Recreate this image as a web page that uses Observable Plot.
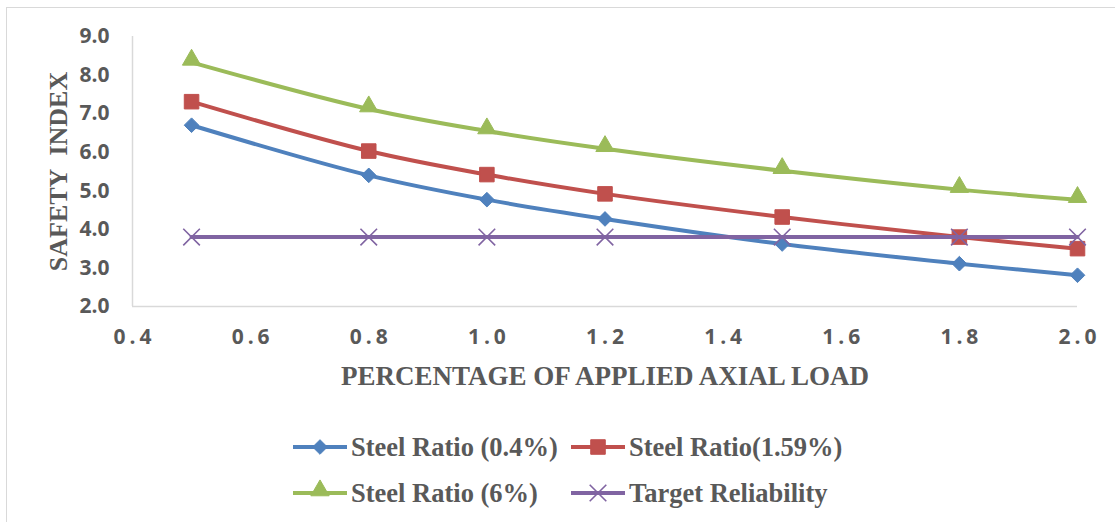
<!DOCTYPE html>
<html>
<head>
<meta charset="utf-8">
<script src="https://cdn.jsdelivr.net/npm/d3@7"></script>
<script src="https://cdn.jsdelivr.net/npm/@observablehq/plot@0.6"></script>
<style>
  html, body { margin: 0; padding: 0; background: #fff; }
  #wrap { position: relative; width: 1115px; height: 522px; overflow: hidden; background: #fff; }
  #frame { position: absolute; left: 6px; top: 7px; right: -4px; bottom: -4px;
           border-left: 1.5px solid #d9d9d9; border-top: 1.5px solid #d9d9d9; }
  #chart { position: absolute; left: 0; top: 0; }
  #chart g[aria-label="x-axis tick label"] { letter-spacing: 4px; }
  #legend { position: absolute; left: 0; top: 400px; width: 1115px; height: 122px; }
  .item { position: absolute; display: flex; align-items: center; height: 30px;
          font-family: "Liberation Serif", "Times New Roman", serif; font-weight: bold;
          font-size: 26.5px; color: #595959; white-space: nowrap; }
  .item svg { margin-right: 4px; }
</style>
</head>
<body>
<div id="wrap">
  <div id="frame"></div>
  <div id="chart"></div>
  <div id="legend"></div>
</div>
<script>
// Applied axial load (fraction) and safety index of each steel ratio
const loads = [0.5, 0.8, 1.0, 1.2, 1.5, 1.8, 2.0];
const steel04 = [6.70, 5.40, 4.77, 4.27, 3.62, 3.11, 2.81];
const steel159 = [7.31, 6.03, 5.42, 4.92, 4.32, 3.80, 3.50];
const steel6 = [8.33, 7.12, 6.55, 6.09, 5.52, 5.03, 4.77];
const target = [3.8, 3.8, 3.8, 3.8, 3.8, 3.8, 3.8];

const xTicks = [0.4, 0.6, 0.8, 1.0, 1.2, 1.4, 1.6, 1.8, 2.0];
const yTicks = [2, 3, 4, 5, 6, 7, 8, 9];

const seriesNames = ["Steel Ratio (0.4%)", "Steel Ratio(1.59%)", "Steel Ratio (6%)", "Target Reliability"];
const seriesValues = [steel04, steel159, steel6, target];
const seriesColors = ["#4f81bd", "#c0504d", "#9bbb59", "#8064a2"];

const markerStyle = [
  {symbol: "diamond2", r: 6.6, fill: seriesColors[0], stroke: seriesColors[0], strokeWidth: 1, dy: 0},
  {symbol: "square", r: 8.2, fill: seriesColors[1], stroke: seriesColors[1], strokeWidth: 1, dy: 0},
  {symbol: "triangle", r: 6.8, fill: seriesColors[2], stroke: seriesColors[2], strokeWidth: 1, dy: -2.5},
  {symbol: "times", r: 7.6, fill: "none", stroke: seriesColors[3], strokeWidth: 1.6, dy: 0}
];

const rows = seriesNames.map((name, i) =>
  loads.map((x, j) => ({series: name, x, y: seriesValues[i][j]}))
);

const fmt = d3.format(".1f");
const tickFont = "'Open Sans', 'DejaVu Sans', sans-serif";
const titleFont = "'Liberation Serif', 'Times New Roman', serif";

const marks = [
  Plot.ruleX([0.4], {stroke: "#d9d9d9", strokeWidth: 1.5}),
  Plot.ruleY([2], {stroke: "#d9d9d9", strokeWidth: 1.5}),
  Plot.axisY({ticks: yTicks, tickFormat: fmt, tickSize: 0, tickPadding: 23, label: null,
    fontSize: 21, fontWeight: "bold", fill: "#595959", fontFamily: tickFont}),
  Plot.axisX({ticks: xTicks, tickFormat: fmt, tickSize: 0, tickPadding: 23, label: null,
    fontSize: 21, fontWeight: "bold", fill: "#595959", fontFamily: tickFont, dx: 2}),
  Plot.text(["SAFETY\u00a0\u00a0INDEX"], {frameAnchor: "left", rotate: -90, dx: -74,
    textAnchor: "middle", lineAnchor: "middle", fontSize: 26, fontWeight: "bold",
    fontFamily: titleFont, fill: "#595959"}),
  Plot.text(["PERCENTAGE OF APPLIED AXIAL LOAD"], {frameAnchor: "bottom", dy: 70,
    textAnchor: "middle", lineAnchor: "middle", fontSize: 27, fontWeight: "bold",
    fontFamily: titleFont, fill: "#595959"})
];

rows.forEach((data, i) => {
  marks.push(Plot.line(data, {x: "x", y: "y", stroke: seriesColors[i], strokeWidth: 4,
    curve: "catmull-rom"}));
  const m = markerStyle[i];
  marks.push(Plot.dot(data, {x: "x", y: "y", symbol: () => m.symbol, r: m.r, fill: m.fill,
    stroke: m.stroke, strokeWidth: m.strokeWidth, dy: m.dy}));
});

const chart = Plot.plot({
  width: 1115,
  height: 400,
  marginLeft: 132,
  marginRight: 38,
  marginTop: 36,
  marginBottom: 94,
  x: {domain: [0.4, 2.0]},
  y: {domain: [2, 9]},
  style: {background: "transparent", overflow: "visible"},
  marks
});
document.getElementById("chart").appendChild(chart);

// Legend: two rows of two entries, each a line swatch with its marker
const legend = document.getElementById("legend");
const legendPos = [[293, 32], [571, 32], [293, 78], [571, 78]];
seriesNames.forEach((name, i) => {
  const item = document.createElement("div");
  item.className = "item";
  item.style.left = legendPos[i][0] + "px";
  item.style.top = legendPos[i][1] + "px";
  const m = markerStyle[i];
  const sw = d3.create("svg").attr("width", 54).attr("height", 30);
  sw.append("line").attr("x1", 0).attr("x2", 54).attr("y1", 15).attr("y2", 15)
    .attr("stroke", seriesColors[i]).attr("stroke-width", 4);
  const symMap = {diamond2: d3.symbolDiamond2, square: d3.symbolSquare,
                  triangle: d3.symbolTriangle, times: d3.symbolTimes};
  sw.append("path")
    .attr("transform", `translate(27,${15 + m.dy})`)
    .attr("d", d3.symbol(symMap[m.symbol], Math.PI * m.r * m.r)())
    .attr("fill", m.fill).attr("stroke", m.stroke).attr("stroke-width", m.strokeWidth);
  item.appendChild(sw.node());
  const label = document.createElement("span");
  label.textContent = name;
  item.appendChild(label);
  legend.appendChild(item);
});
</script>
</body>
</html>
